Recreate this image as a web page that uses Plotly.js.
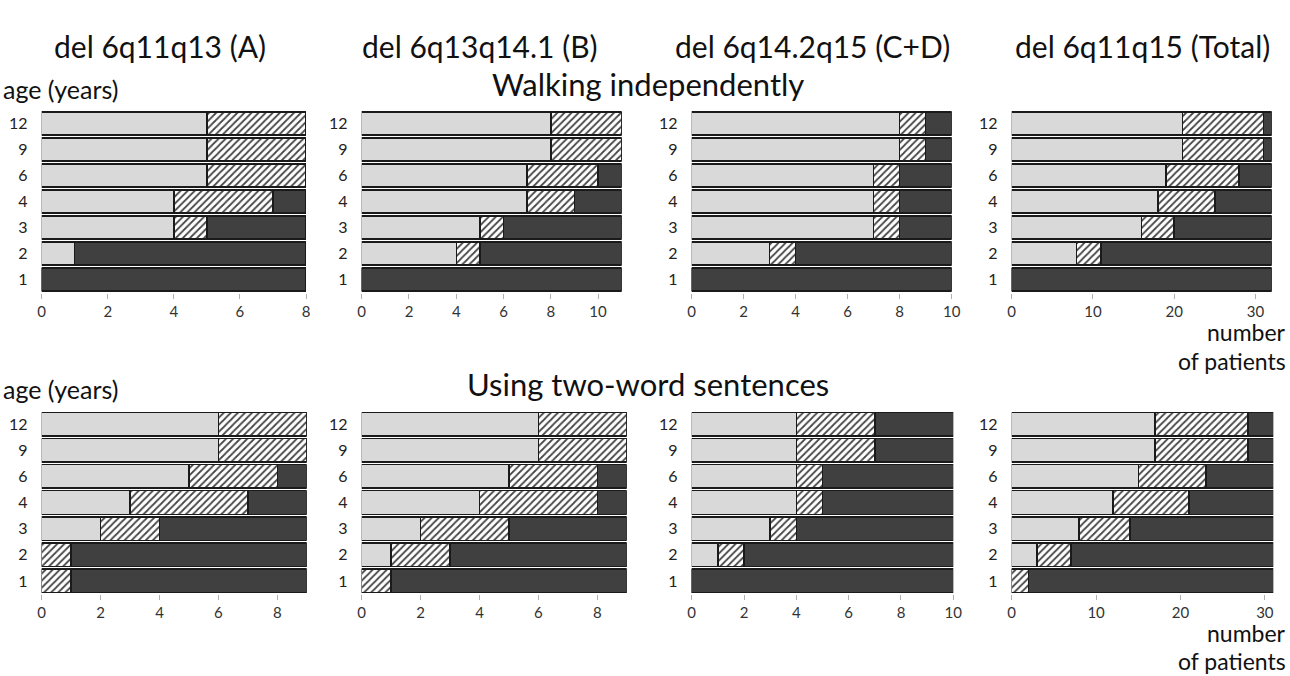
<!DOCTYPE html>
<html><head><meta charset="utf-8">
<script src="https://cdn.plot.ly/plotly-3.0.1.min.js"></script>
<style>html,body{margin:0;padding:0;background:#fff;}</style>
</head><body>
<div id="chart" style="width:1290px;height:676px;"></div>
<script>
const ages = ['1','2','3','4','6','9','12'];
const groups = ['del 6q11q13 (A)','del 6q13q14.1 (B)','del 6q14.2q15 (C+D)','del 6q11q15 (Total)'];
const rowTitles = ['Walking independently','Using two-word sentences'];

// Walking independently: [light (achieved), hatched, dark]
const walkA_light = [0,1,4,4,5,5,5];
const walkA_hatch = [0,0,1,3,3,3,3];
const walkA_dark  = [8,7,3,1,0,0,0];
const walkB_light = [0,4,5,7,7,8,8];
const walkB_hatch = [0,1,1,2,3,3,3];
const walkB_dark  = [11,6,5,2,1,0,0];
const walkCD_light = [0,3,7,7,7,8,8];
const walkCD_hatch = [0,1,1,1,1,1,1];
const walkCD_dark  = [10,6,2,2,2,1,1];
const walkT_light = [0,8,16,18,19,21,21];
const walkT_hatch = [0,3,4,7,9,10,10];
const walkT_dark  = [32,21,12,7,4,1,1];

// Using two-word sentences
const sentA_light = [0,0,2,3,5,6,6];
const sentA_hatch = [1,1,2,4,3,3,3];
const sentA_dark  = [8,8,5,2,1,0,0];
const sentB_light = [0,1,2,4,5,6,6];
const sentB_hatch = [1,2,3,4,3,3,3];
const sentB_dark  = [8,6,4,1,1,0,0];
const sentCD_light = [0,1,3,4,4,4,4];
const sentCD_hatch = [0,1,1,1,1,3,3];
const sentCD_dark  = [10,8,6,5,5,3,3];
const sentT_light = [0,3,8,12,15,17,17];
const sentT_hatch = [2,4,6,9,8,11,11];
const sentT_dark  = [29,24,17,10,8,3,3];

const panels = [
  [walkA_light,walkA_hatch,walkA_dark, 8, 2],
  [walkB_light,walkB_hatch,walkB_dark, 11, 2],
  [walkCD_light,walkCD_hatch,walkCD_dark, 10, 2],
  [walkT_light,walkT_hatch,walkT_dark, 32, 10],
  [sentA_light,sentA_hatch,sentA_dark, 9, 2],
  [sentB_light,sentB_hatch,sentB_dark, 9, 2],
  [sentCD_light,sentCD_hatch,sentCD_dark, 10, 2],
  [sentT_light,sentT_hatch,sentT_dark, 31, 10]
];

const W = 1290, H = 676;
// pixel boxes [x0,x1,y0,y1]
const boxes = [
  [41.7,306,110.5,292.5],[361.7,621.7,110.5,292.5],[691.7,951.7,110.5,292.5],[1011.7,1271.7,110.5,292.5],
  [41.7,306.7,411,594],[361.7,626.7,411,594],[691.7,953.3,411,594],[1011.7,1273.3,411,594]
];

const traces = [];
const layout = {
  width: W, height: H, margin:{l:0,r:0,t:0,b:0},
  paper_bgcolor:'#fff', plot_bgcolor:'#fff',
  barmode:'stack', bargap:0.1, showlegend:false,
  font:{family:'Lato, "Open Sans", sans-serif', color:'#222'},
  annotations:[]
};
const lineStyle = {color:'#1a1a1a', width:1.5};
panels.forEach((p,i)=>{
  const n = i+1;
  const xa = 'x'+(n===1?'':n), ya = 'y'+(n===1?'':n);
  traces.push({type:'bar', orientation:'h', y:ages, x:p[0], xaxis:xa, yaxis:ya,
    marker:{color:'#d9d9d9', line:lineStyle}, hoverinfo:'x+y'});
  traces.push({type:'bar', orientation:'h', y:ages, x:p[1], xaxis:xa, yaxis:ya,
    marker:{color:'#ffffff', line:lineStyle, pattern:{shape:'/', bgcolor:'#ffffff', fgcolor:'#444', size:5, solidity:0.35}}, hoverinfo:'x+y'});
  traces.push({type:'bar', orientation:'h', y:ages, x:p[2], xaxis:xa, yaxis:ya,
    marker:{color:'#404040', line:lineStyle}, hoverinfo:'x+y'});
  const b = boxes[i];
  layout['xaxis'+(n===1?'':n)] = {
    domain:[b[0]/W, b[1]/W], anchor:ya, range:[0,p[3]], dtick:p[4], tick0:0,
    showgrid:false, zeroline:false, showline:false,
    ticks:'outside', ticklen:5, tickcolor:'#b0b0b0', tickwidth:1,
    tickfont:{size:15, color:'#333'}, fixedrange:true
  };
  layout['yaxis'+(n===1?'':n)] = {
    domain:[1-b[3]/H, 1-b[2]/H], anchor:xa, type:'category',
    categoryorder:'array', categoryarray:ages,
    showgrid:false, zeroline:false, showline:false,
    ticks:'outside', ticklen:10, tickcolor:'rgba(0,0,0,0)',
    tickfont:{size:16, color:'#222'}, fixedrange:true
  };
});

const A = layout.annotations;
const colCenters = [160, 480, 812, 1142];
groups.forEach((g,i)=>A.push({text:g, xref:'paper', yref:'paper', x:colCenters[i]/W, y:1-46/H,
  xanchor:'center', yanchor:'middle', showarrow:false, font:{size:30, color:'#111'}}));
[[84,89],[384,389]].forEach((ys,r)=>{
  A.push({text:rowTitles[r], xref:'paper', yref:'paper', x:648/W, y:1-ys[0]/H,
    xanchor:'center', yanchor:'middle', showarrow:false, font:{size:31, color:'#111'}});
  A.push({text:'age (years)', xref:'paper', yref:'paper', x:1/W, y:1-ys[1]/H,
    xanchor:'left', yanchor:'middle', showarrow:false, font:{size:25, color:'#111'}});
});
[[332,361],[633,661]].forEach(ys=>{
  A.push({text:'number', xref:'paper', yref:'paper', x:1288/W, y:1-ys[0]/H,
    xanchor:'right', yanchor:'middle', showarrow:false, font:{size:23, color:'#111'}});
  A.push({text:'of patients', xref:'paper', yref:'paper', x:1288/W, y:1-ys[1]/H,
    xanchor:'right', yanchor:'middle', showarrow:false, font:{size:23, color:'#111'}});
});

Plotly.newPlot('chart', traces, layout, {displayModeBar:false, staticPlot:true});
</script>
</body></html>
